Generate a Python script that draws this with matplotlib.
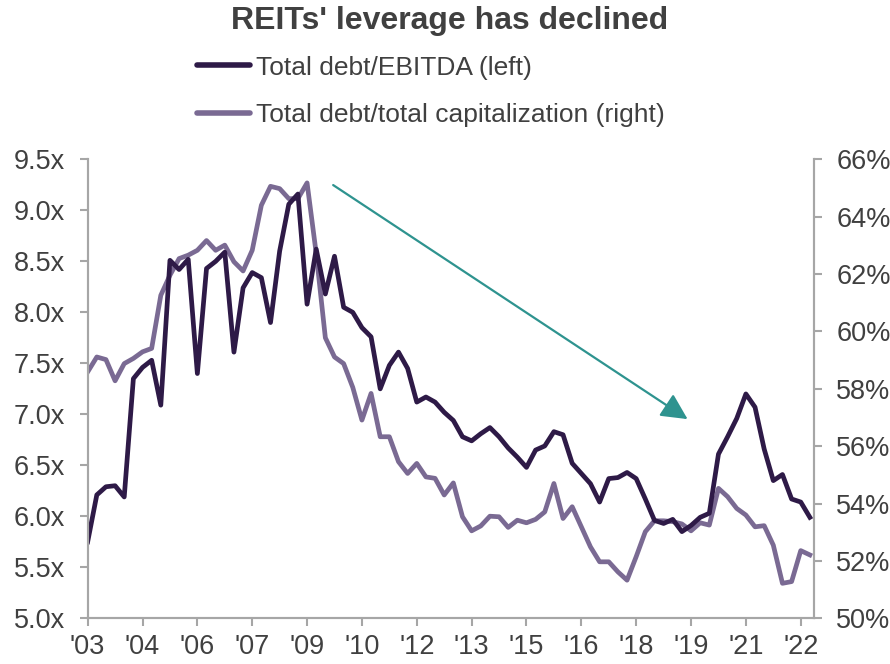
import matplotlib
matplotlib.use("Agg")
import matplotlib.pyplot as plt
from matplotlib.ticker import FuncFormatter

plt.rcParams["font.family"] = ["Liberation Sans", "DejaVu Sans"]

# quarterly data, 2003Q1 .. 2022Q4
debt_ebitda = [
    5.75, 6.21, 6.29, 6.30, 6.19, 7.35, 7.46, 7.53, 7.09, 8.51,
    8.42, 8.52, 7.40, 8.43, 8.50, 8.59, 7.61, 8.24, 8.39, 8.34,
    7.90, 8.60, 9.06, 9.16, 8.08, 8.62, 8.18, 8.55, 8.05, 8.00,
    7.85, 7.76, 7.25, 7.48, 7.61, 7.45, 7.12, 7.17, 7.12, 7.02,
    6.94, 6.78, 6.74, 6.81, 6.87, 6.78, 6.67, 6.58, 6.48, 6.65,
    6.69, 6.83, 6.80, 6.52, 6.42, 6.32, 6.14, 6.37, 6.38, 6.43,
    6.37, 6.17, 5.96, 5.93, 5.97, 5.85, 5.91, 5.99, 6.03, 6.61,
    6.78, 6.96, 7.20, 7.07, 6.66, 6.35, 6.41, 6.17, 6.14, 5.99,
]
debt_cap = [
    58.59, 59.11, 59.02, 58.28, 58.88, 59.06, 59.29, 59.41, 61.26, 61.96,
    62.54, 62.66, 62.83, 63.17, 62.83, 63.01, 62.43, 62.11, 62.83, 64.40,
    65.06, 64.98, 64.63, 64.63, 65.18, 62.72, 59.78, 59.11, 58.88, 58.05,
    56.91, 57.84, 56.33, 56.33, 55.46, 55.05, 55.40, 54.93, 54.88, 54.30,
    54.72, 53.54, 53.05, 53.22, 53.56, 53.54, 53.17, 53.42, 53.33, 53.45,
    53.71, 54.70, 53.48, 53.89, 53.19, 52.49, 51.97, 51.97, 51.62, 51.33,
    52.15, 53.02, 53.40, 53.40, 53.37, 53.29, 53.05, 53.33, 53.25, 54.53,
    54.24, 53.83, 53.60, 53.19, 53.23, 52.55, 51.22, 51.28, 52.36, 52.21,
]
tick_labels = ["'03", "'04", "'06", "'07", "'09", "'10", "'12",
               "'13", "'15", "'16", "'18", "'19", "'21", "'22"]

dark = "#2e1a47"
light = "#7a6a93"
grey = "#a6a6a6"
text_c = "#404040"

fig = plt.figure(figsize=(8.9, 6.64), dpi=100)
ax = fig.add_axes([0.0985, 0.0688, 0.8161, 0.6912])
ax2 = ax.twinx()

x = list(range(len(debt_ebitda)))
l1, = ax.plot(x, debt_ebitda, color=dark, lw=3.4, solid_joinstyle="round",
              label="Total debt/EBITDA (left)")
l2, = ax2.plot(x, debt_cap, color=light, lw=3.4, solid_joinstyle="round",
               label="Total debt/total capitalization (right)")
ax.set_zorder(ax2.get_zorder() + 1)
ax.patch.set_visible(False)

ax.set_xlim(0, 79.45)
ax.set_ylim(5.0, 9.5)
ax2.set_ylim(50, 66)
ax.set_yticks([5.0 + 0.5 * i for i in range(10)])
ax2.set_yticks(list(range(50, 67, 2)))
ax.yaxis.set_major_formatter(FuncFormatter(lambda v, p: f"{v:.1f}x"))
ax2.yaxis.set_major_formatter(FuncFormatter(lambda v, p: f"{v:.0f}%"))
ax.set_xticks(list(range(0, 80, 6)))
ax.set_xticklabels(tick_labels)

for a in (ax, ax2):
    a.spines["top"].set_visible(False)
    for s in ("left", "right", "bottom"):
        a.spines[s].set_color(grey)
        a.spines[s].set_linewidth(1.5)
    a.tick_params(axis="both", colors=grey, labelcolor=text_c,
                  labelsize=19.5, length=6, width=1.5, direction="out")
ax.tick_params(axis="y", pad=10)
ax2.tick_params(axis="y", pad=10)
ax.tick_params(axis="x", pad=5)

ax.annotate("", xy=(0.826, 0.434), xytext=(0.338, 0.944),
            xycoords="axes fraction", textcoords="axes fraction",
            arrowprops=dict(arrowstyle="-|>,head_length=0.8,head_width=0.4",
                            color="#2e938f", lw=1.6, mutation_scale=20,
                            shrinkA=0, shrinkB=0))

fig.text(0.505, 0.968, "REITs' leverage has declined", ha="center",
         va="center", fontsize=23, fontweight="bold", color=text_c)

leg = fig.legend(handles=[l1, l2], loc="center left",
                 bbox_to_anchor=(197 / 890, 1 - 91.5 / 664),
                 frameon=False, fontsize=19, handlelength=2.0,
                 handletextpad=0.25, labelspacing=0.9, borderpad=0,
                 borderaxespad=0)
for t in leg.get_texts():
    t.set_color(text_c)
for h in leg.legend_handles:
    h.set_linewidth(4)
    h.set_solid_capstyle("round")

fig.savefig("out.png", dpi=100)
